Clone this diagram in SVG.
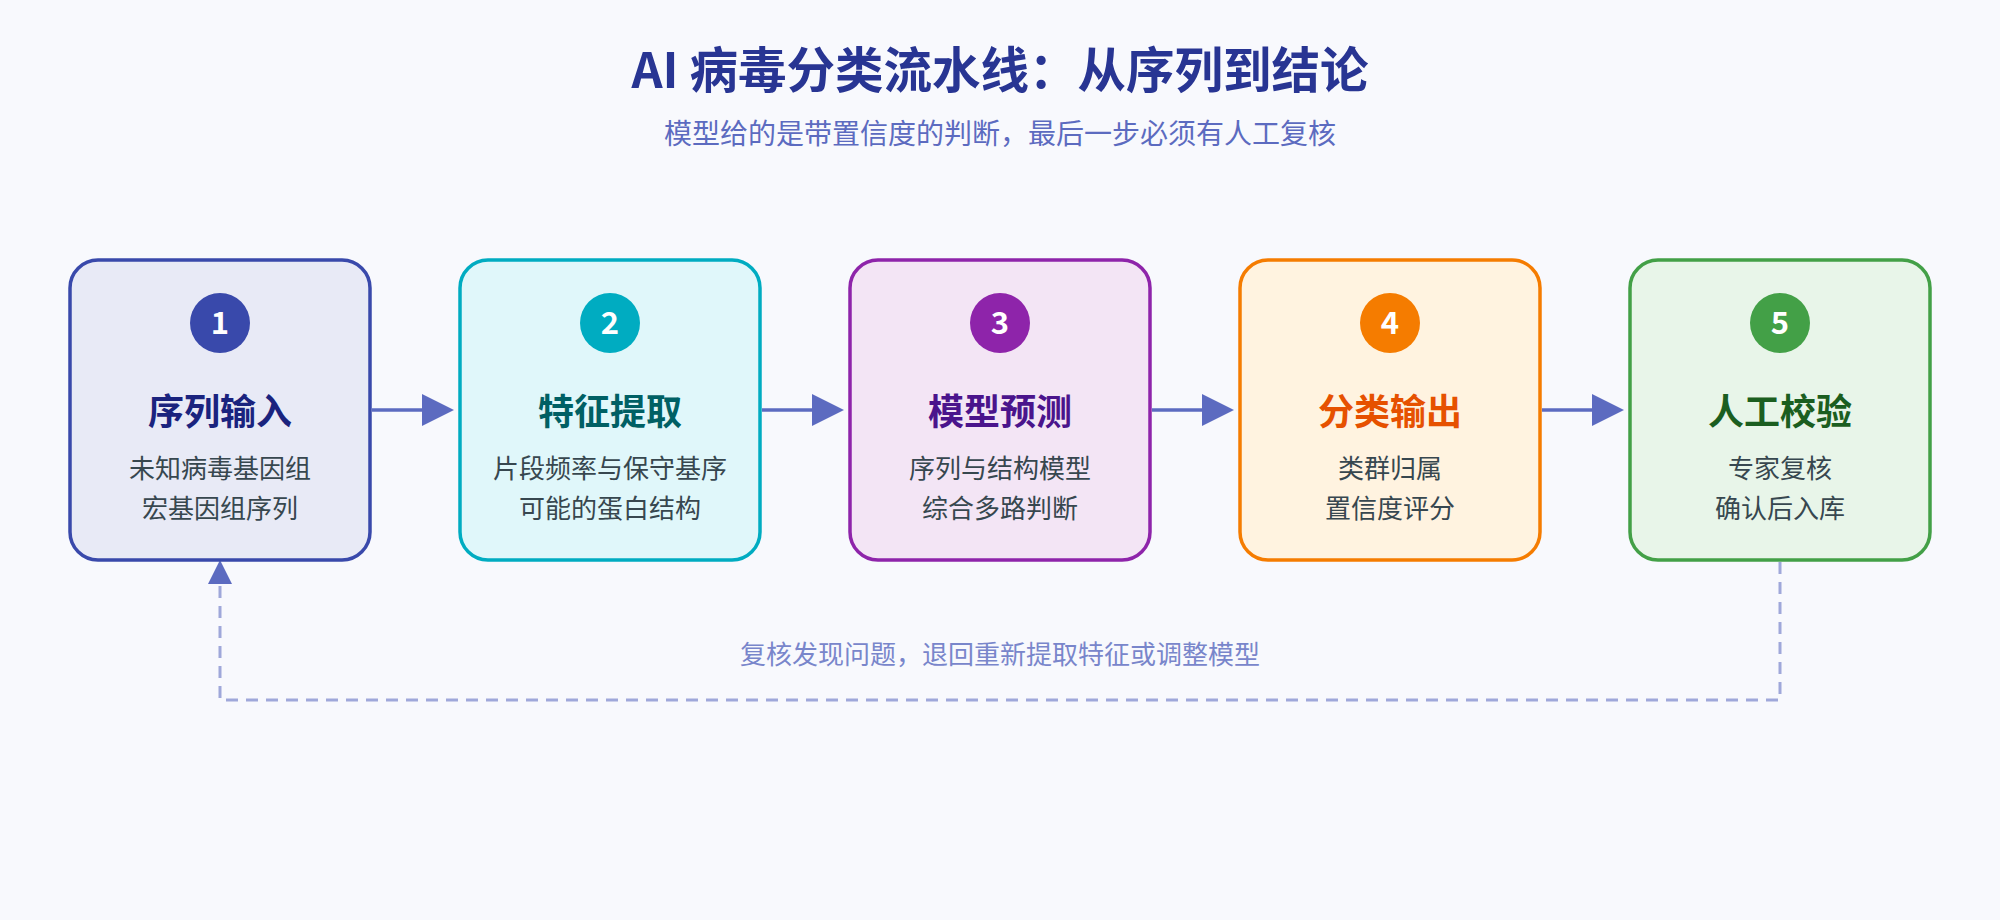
<svg xmlns="http://www.w3.org/2000/svg" width="2000" height="920" viewBox="0 0 2000 920">
<style>
text{font-family:"Noto Sans CJK SC","Noto Sans",sans-serif;text-anchor:middle}
.title{font-size:48.5px;font-weight:700;fill:#283593}
.sub{font-size:28px;fill:#5c6bc0}
.num{font-size:31px;font-weight:700;fill:#ffffff}
.nt{font-size:36px;font-weight:700}
.desc{font-size:26px;fill:#37474f}
.box{stroke-width:3.5}
.flow{stroke:#5c6bc0;stroke-width:3.5;fill:none}
.back{stroke:#9fa8da;stroke-width:3;fill:none;stroke-dasharray:12 8}
.note{font-size:26px;fill:#7986cb}
</style>
<defs>
<marker id="ah" viewBox="0 0 32 32" markerWidth="32" markerHeight="32" refX="0" refY="16" markerUnits="userSpaceOnUse" orient="auto"><path d="M0,0 L32,16 L0,32 Z" fill="#5c6bc0"/></marker>
</defs>
<rect width="2000" height="920" fill="#f8f9fd"/>
<text class="title" x="1000" y="88">AI 病毒分类流水线：从序列到结论</text>
<text class="sub" x="1000" y="144">模型给的是带置信度的判断，最后一步必须有人工复核</text>
<g id="connectors">
<line class="flow" x1="372" y1="410" x2="422" y2="410" marker-end="url(#ah)"/>
<line class="flow" x1="762" y1="410" x2="812" y2="410" marker-end="url(#ah)"/>
<line class="flow" x1="1152" y1="410" x2="1202" y2="410" marker-end="url(#ah)"/>
<line class="flow" x1="1542" y1="410" x2="1592" y2="410" marker-end="url(#ah)"/>
<path class="back" d="M1780,562 V700 H220 V584"/>
<path d="M208,584 L220,560 L232,584 Z" fill="#5c6bc0"/>
<text class="note" x="1000" y="664">复核发现问题，退回重新提取特征或调整模型</text>
</g>
<g id="node1">
<rect class="box" x="70" y="260" width="300" height="300" rx="28" fill="#e8eaf6" stroke="#3949ab"/>
<circle cx="220" cy="323" r="30" fill="#3949ab"/>
<text class="num" x="220" y="334">1</text>
<text class="nt" x="220" y="425" fill="#1a237e">序列输入</text>
<text class="desc" x="220" y="478">未知病毒基因组</text>
<text class="desc" x="220" y="518">宏基因组序列</text>
</g>
<g id="node2">
<rect class="box" x="460" y="260" width="300" height="300" rx="28" fill="#e0f7fa" stroke="#00acc1"/>
<circle cx="610" cy="323" r="30" fill="#00acc1"/>
<text class="num" x="610" y="334">2</text>
<text class="nt" x="610" y="425" fill="#006064">特征提取</text>
<text class="desc" x="610" y="478">片段频率与保守基序</text>
<text class="desc" x="610" y="518">可能的蛋白结构</text>
</g>
<g id="node3">
<rect class="box" x="850" y="260" width="300" height="300" rx="28" fill="#f3e5f5" stroke="#8e24aa"/>
<circle cx="1000" cy="323" r="30" fill="#8e24aa"/>
<text class="num" x="1000" y="334">3</text>
<text class="nt" x="1000" y="425" fill="#4a148c">模型预测</text>
<text class="desc" x="1000" y="478">序列与结构模型</text>
<text class="desc" x="1000" y="518">综合多路判断</text>
</g>
<g id="node4">
<rect class="box" x="1240" y="260" width="300" height="300" rx="28" fill="#fff3e0" stroke="#f57c00"/>
<circle cx="1390" cy="323" r="30" fill="#f57c00"/>
<text class="num" x="1390" y="334">4</text>
<text class="nt" x="1390" y="425" fill="#e65100">分类输出</text>
<text class="desc" x="1390" y="478">类群归属</text>
<text class="desc" x="1390" y="518">置信度评分</text>
</g>
<g id="node5">
<rect class="box" x="1630" y="260" width="300" height="300" rx="28" fill="#e8f5e9" stroke="#43a047"/>
<circle cx="1780" cy="323" r="30" fill="#43a047"/>
<text class="num" x="1780" y="334">5</text>
<text class="nt" x="1780" y="425" fill="#1b5e20">人工校验</text>
<text class="desc" x="1780" y="478">专家复核</text>
<text class="desc" x="1780" y="518">确认后入库</text>
</g>
</svg>
